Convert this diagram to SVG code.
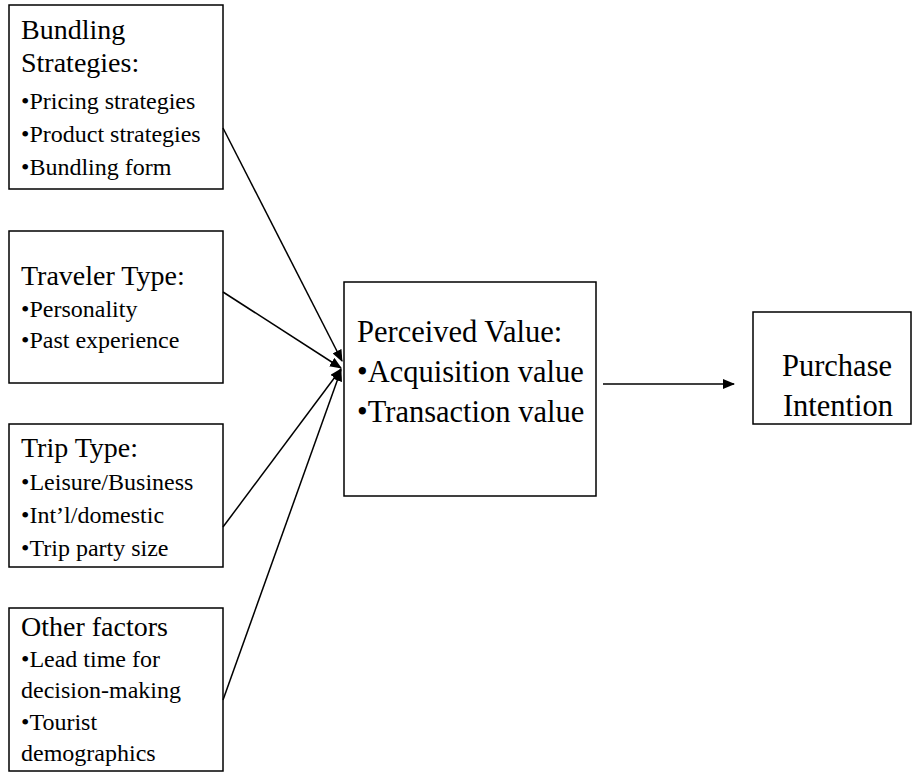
<svg xmlns="http://www.w3.org/2000/svg" width="923" height="776" viewBox="0 0 923 776">
<style>
.box{fill:#fff;stroke:#000;stroke-width:1.5}
.t{font-family:"Liberation Serif","Times New Roman",serif;fill:#000}
.h{font-size:28px}
.b{font-size:24px}
.c{font-size:30.5px}
.ln{stroke:#000;stroke-width:1.5;fill:none;marker-end:url(#ah)}
</style>
<defs>
<marker id="ah" markerUnits="userSpaceOnUse" markerWidth="12" markerHeight="10" refX="11" refY="5" orient="auto" viewBox="0 0 12 10">
<path d="M0,0 L12,5 L0,10 Z" fill="#000"/>
</marker>
</defs>
<rect width="923" height="776" fill="#fff"/>
<g id="bundling">
<rect class="box" x="9" y="5" width="214" height="184"/>
<text class="t h" x="21" y="39">Bundling</text>
<text class="t h" x="21" y="72">Strategies:</text>
<text class="t b" x="21" y="109">•Pricing strategies</text>
<text class="t b" x="21" y="142">•Product strategies</text>
<text class="t b" x="21" y="175">•Bundling form</text>
</g>
<g id="traveler">
<rect class="box" x="9" y="231" width="214" height="152"/>
<text class="t h" x="21" y="285">Traveler Type:</text>
<text class="t b" x="21" y="317">•Personality</text>
<text class="t b" x="21" y="348">•Past experience</text>
</g>
<g id="trip">
<rect class="box" x="9" y="424" width="214" height="143"/>
<text class="t h" x="21" y="457">Trip Type:</text>
<text class="t b" x="21" y="490">•Leisure/Business</text>
<text class="t b" x="21" y="523">•Int’l/domestic</text>
<text class="t b" x="21" y="556">•Trip party size</text>
</g>
<g id="other">
<rect class="box" x="9" y="608" width="214" height="163"/>
<text class="t h" x="21" y="636">Other factors</text>
<text class="t b" x="21" y="667">•Lead time for</text>
<text class="t b" x="21" y="698">decision-making</text>
<text class="t b" x="21" y="730">•Tourist</text>
<text class="t b" x="21" y="761">demographics</text>
</g>
<g id="perceived">
<rect class="box" x="344" y="282" width="252" height="214"/>
<text class="t c" x="357" y="342">Perceived Value:</text>
<text class="t c" x="357" y="382">•Acquisition value</text>
<text class="t c" x="357" y="422">•Transaction value</text>
</g>
<g id="purchase">
<rect class="box" x="753" y="312" width="158" height="112"/>
<text class="t c" x="837" y="376" text-anchor="middle">Purchase</text>
<text class="t c" x="838" y="416" text-anchor="middle">Intention</text>
</g>
<g id="connectors">
<line class="ln" x1="223" y1="128" x2="342" y2="361"/>
<line class="ln" x1="223" y1="292" x2="341" y2="368"/>
<line class="ln" x1="223" y1="527" x2="341" y2="369"/>
<line class="ln" x1="223" y1="700" x2="341" y2="370"/>
<line class="ln" x1="603" y1="384" x2="734" y2="384"/>
</g>
</svg>
